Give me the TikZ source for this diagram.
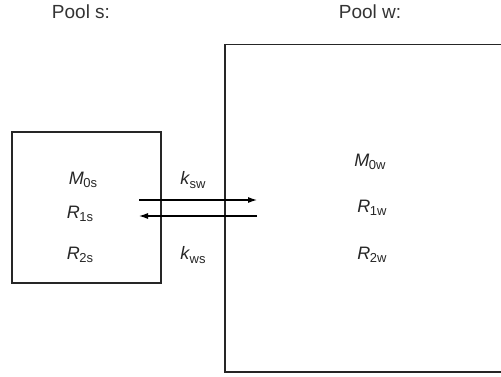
\documentclass[tikz,border=0pt]{standalone}
\usepackage{fontspec}
\setmainfont{Liberation Sans}
\usetikzlibrary{arrows.meta}
\newcommand{\lbl}[2]{\textit{#1}\kern-0.5pt\raisebox{-0.35ex}{\fontsize{13}{13}\selectfont #2}}
\begin{document}
\begin{tikzpicture}[x=1pt,y=-1pt,
  box/.style={draw=black!85,line width=1.2pt},
  txt/.style={font=\fontsize{18}{20}\selectfont,text=black!85,inner sep=0pt},
  title/.style={font=\fontsize{19}{21}\selectfont,text=black!80,inner sep=0pt},
  flow/.style={draw=black,line width=1.1pt,-{Latex[length=9pt,width=6pt]}}]
\useasboundingbox (0,0) rectangle (501,377);
\node[title] (ps) at (81,12) {Pool s:};
\node[title] (pw) at (370,12) {Pool w:};
\draw[box] (12,132) rectangle (161,283);
\draw[box] (225,44.5) rectangle (506,372);
\node[txt] (m0s) at (83,180) {\lbl{M}{0s}};
\node[txt] (r1s) at (80,214) {\lbl{R}{1s}};
\node[txt] (r2s) at (80,255) {\lbl{R}{2s}};
\node[txt] (ksw) at (193,180) {\lbl{k}{sw}};
\node[txt] (kws) at (193,255) {\lbl{k}{ws}};
\node[txt] (m0w) at (370,162) {\lbl{M}{0w}};
\node[txt] (r1w) at (372,208) {\lbl{R}{1w}};
\node[txt] (r2w) at (372,255) {\lbl{R}{2w}};
\coordinate (a1s) at (139,200);
\coordinate (a1e) at (257,200);
\coordinate (a2s) at (257,216);
\coordinate (a2e) at (139,216);
\draw[flow] (a1s) -- (a1e);
\draw[flow] (a2s) -- (a2e);
\end{tikzpicture}
\end{document}
